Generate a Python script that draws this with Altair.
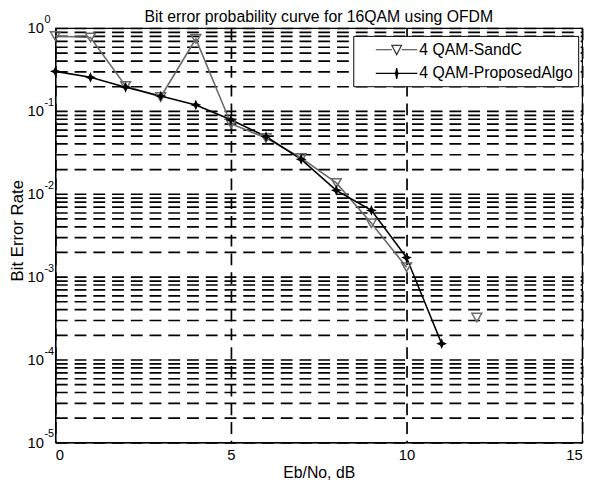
import altair as alt
import pandas as pd
import numpy as np

# ---- data ----
snr_db = list(range(13))
ber_sandc = [0.80, 0.77, 0.20, 0.147, 0.74, 0.070, 0.047, 0.027, 0.0135, 0.0044, 0.0013, None, 3.2e-4]
ber_proposed = [0.30, 0.254, 0.193, 0.151, 0.118, 0.078, 0.049, 0.026, 0.011, 0.0063, 0.0017, 1.55e-4, None]
series_names = ["4 QAM-SandC", "4 QAM-ProposedAlgo"]
x_ticks = [0, 5, 10, 15]
decade_exps = [0, -1, -2, -3, -4, -5]
minor_mults = [1, 2, 3, 4, 5, 6, 7, 8, 9]

y_grid_values = [m * 10.0 ** e for e in range(-5, 0) for m in minor_mults] + [1.0]

rows = []
for x, a, b in zip(snr_db, ber_sandc, ber_proposed):
    rows.append({"snr": x, "ber": a if a is not None else np.nan, "series": series_names[0]})
    rows.append({"snr": x, "ber": b if b is not None else np.nan, "series": series_names[1]})
df = pd.DataFrame(rows)

dec_df = pd.DataFrame({"ber": [10.0 ** e for e in decade_exps],
                       "exp": [str(e) for e in decade_exps]})

FONT = "Liberation Sans"
GRID_DASH = [12, 7]
GRID_W = 1.7

x_enc = alt.X("snr:Q",
              scale=alt.Scale(domain=[0, 15], nice=False),
              axis=alt.Axis(values=x_ticks, title="Eb/No, dB", grid=True,
                            gridDash=GRID_DASH, gridColor="black", gridWidth=GRID_W,
                            gridOpacity=1, ticks=False, tickSize=0, labelPadding=5,
                            labelFontSize=15, labelFont=FONT, labelColor="black",
                            titleFontSize=16, titleFont=FONT, titleFontWeight="normal",
                            titleColor="black",
                            titleX=267, titleY=31,
                            titleBaseline="middle", titleAlign="center"))

is_decade = "abs(log(datum.value)/LN10 - round(log(datum.value)/LN10)) < 0.001"
y_enc = alt.Y("ber:Q",
              scale=alt.Scale(type="log", domain=[1e-5, 1], nice=False),
              axis=alt.Axis(values=y_grid_values, title="Bit Error Rate", grid=True,
                            gridDash=GRID_DASH, gridColor="black", gridWidth=GRID_W,
                            gridOpacity=1, ticks=False, tickSize=0, labelPadding=12,
                            labelOverlap=False, labelFontSize=15, labelFont=FONT,
                            labelColor="black",
                            labelExpr=f"{is_decade} ? '10' : ''",
                            titleFontSize=17, titleFont=FONT, titleFontWeight="normal",
                            titleColor="black",
                            titleX=-38, titleY=205, titleAngle=-90,
                            titleBaseline="middle", titleAlign="center"))

base = alt.Chart(df)

sandc_line = base.transform_filter(alt.datum.series == series_names[0]).mark_line(
    color="#6a6a6a", strokeWidth=1.6, invalid="break-paths-show-domains"
).encode(x=x_enc, y=y_enc)

sandc_pts = base.transform_filter(alt.datum.series == series_names[0]).mark_point(
    shape="triangle-down", size=100, filled=False, color="#6a6a6a", strokeWidth=1.5, opacity=1
).encode(x=x_enc, y=y_enc)

star_path = "M0,-1L0.3,-0.3L1,0L0.3,0.3L0,1L-0.3,0.3L-1,0L-0.3,-0.3Z"
prop_line = base.transform_filter(alt.datum.series == series_names[1]).mark_line(
    color="black", strokeWidth=1.6, invalid="break-paths-show-domains"
).encode(x=x_enc, y=y_enc)

prop_pts = base.transform_filter(alt.datum.series == series_names[1]).mark_point(
    shape=star_path, size=120, filled=True, color="black", opacity=1
).encode(x=x_enc, y=y_enc)

exp_text = alt.Chart(dec_df).mark_text(
    align="left", baseline="middle", dy=-8, fontSize=11, font=FONT, color="black"
).encode(x=alt.value(-11), y=y_enc, text="exp:N")

# legend symbols (unit = 8 px): line sample with the marker in its middle
leg_sandc = ("M1.1,0L3.13,0M4.37,0L6.37,0"
             "M3.13,-0.56L4.37,-0.56L3.75,0.62Z")
leg_prop = ("M1.1,0L6.37,0"
            "M3.75,-0.68L3.86,-0.11L4.0,0L3.86,0.11L3.75,0.68L3.64,0.11L3.5,0L3.64,-0.11Z")
leg = alt.Legend(title=None, orient="none", legendX=302, legendY=8, padding=5,
                 strokeColor="black", fillColor="white", symbolSize=256,
                 symbolStrokeWidth=1.2, labelFontSize=16, labelFont=FONT,
                 labelOffset=44, rowPadding=7, symbolOpacity=1, labelColor="black",
                 labelLimit=400)
legend_layer = base.transform_filter("false").mark_point().encode(
    shape=alt.Shape("series:N", scale=alt.Scale(domain=series_names, range=[leg_sandc, leg_prop]), legend=leg),
    fill=alt.Fill("series:N", scale=alt.Scale(domain=series_names, range=["white", "black"]), legend=leg),
    stroke=alt.Stroke("series:N", scale=alt.Scale(domain=series_names, range=["#3a3a3a", "black"]), legend=leg),
)

chart = alt.layer(sandc_line, prop_line, sandc_pts, prop_pts, exp_text, legend_layer).properties(
    width=534, height=420,
    autosize=alt.AutoSizeParams(type="none"),
    padding={"left": 48, "top": 17, "right": 10, "bottom": 44},
    title=alt.Title("Bit error probability curve for 16QAM using OFDM",
                    fontSize=16, font=FONT, fontWeight="normal", offset=4, dy=15,
                    color="black", frame="group"),
).configure_view(
    stroke="black", strokeWidth=1.2
).configure_axis(
    domainColor="black", domainWidth=1.2
)

chart.save("out.html", embed_options={"renderer": "svg", "actions": False})
